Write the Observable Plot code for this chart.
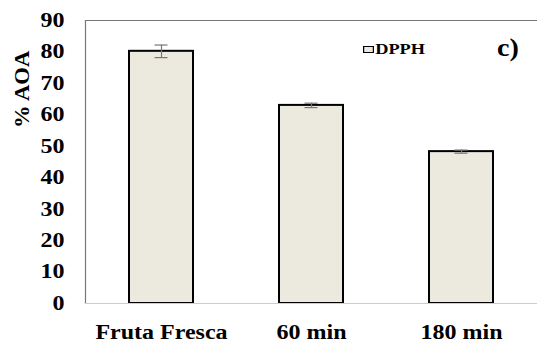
<!DOCTYPE html>
<html>
<head>
<meta charset="utf-8">
<script src="https://cdn.jsdelivr.net/npm/d3@7"></script>
<script src="https://cdn.jsdelivr.net/npm/@observablehq/plot@0.6"></script>
<style>
  html, body { margin: 0; padding: 0; background: #fff; overflow: hidden; }
  body, body *, svg text { font-family: "Liberation Serif", serif !important; }
  #chart { position: relative; width: 537px; height: 342px; }
  .legend { position: absolute; left: 363px; top: 41px; font-weight: bold; font-size: 15px; line-height: 17px; display: flex; align-items: center; z-index: 2; transform: scaleX(1.22); transform-origin: 0 0; }
  .legend .sw { width: 7px; height: 5px; background: #ECE9DF; border: 1.5px solid #000; margin-right: 1px; }
  .panel { position: absolute; left: 497px; top: 33px; font-weight: bold; font-size: 26px; line-height: 30px; z-index: 2; transform: scaleX(1.08); transform-origin: 0 0; }
</style>
</head>
<body>
<div id="chart"><div class="legend"><span class="sw"></span>DPPH</div><div class="panel">c)</div></div>
<script>
const categories = ["Fruta Fresca", "60 min", "180 min"];
const values = [80.2, 63, 48.3];
const errors = [2, 0.7, 0.5];
const yTicks = [0, 10, 20, 30, 40, 50, 60, 70, 80, 90];

const data = categories.map((c, i) => ({cat: c, v: values[i], e: errors[i]}));

const plot = Plot.plot({
  width: 537,
  height: 342,
  marginTop: 20,
  marginBottom: 39,
  marginLeft: 85,
  marginRight: 0,
  style: {fontFamily: "Liberation Serif", fontWeight: "bold", fontSize: "20px", color: "#000", background: "#fff"},
  x: {domain: categories, paddingInner: 0.576, paddingOuter: 0.288, label: null, tickSize: 0, tickPadding: 21},
  y: {domain: [0, 90], ticks: yTicks, label: null, tickSize: 0, tickPadding: 21},
  marks: [
    Plot.frame({anchor: "left", stroke: "#777", strokeWidth: 1.2}),
    Plot.frame({anchor: "top", stroke: "#777", strokeWidth: 1.2}),
    Plot.barY(data, {x: "cat", y: "v", fill: "#ECE9DF", stroke: "#000", strokeWidth: 2}),
    Plot.ruleY([0], {stroke: "#ccc", strokeWidth: 1.2}),
    Plot.ruleX(data, {x: "cat", y1: d => d.v - d.e, y2: d => d.v + d.e, stroke: "#777", strokeWidth: 1.2}),
    Plot.tickY(data, {x: "cat", y: d => d.v + d.e, stroke: "#777", strokeWidth: 1.2, insetLeft: 25.5, insetRight: 25.5}),
    Plot.tickY(data, {x: "cat", y: d => d.v - d.e, stroke: "#777", strokeWidth: 1.2, insetLeft: 25.5, insetRight: 25.5}),
    Plot.text(["% AOA"], {frameAnchor: "left", dx: -63, dy: -34, rotate: -90, fontSize: 20, fontWeight: "bold"})
  ]
});
plot.style.position = "absolute";
plot.style.left = "0";
plot.style.top = "0";
document.getElementById("chart").prepend(plot);
plot.querySelectorAll("text").forEach(t => {
  const rotated = (t.getAttribute("transform") || "").includes("rotate");
  const len = t.getComputedTextLength();
  t.setAttribute("textLength", (len * (rotated ? 1.13 : 1.2)).toFixed(1));
  t.setAttribute("lengthAdjust", "spacingAndGlyphs");
});
</script>
</body>
</html>
